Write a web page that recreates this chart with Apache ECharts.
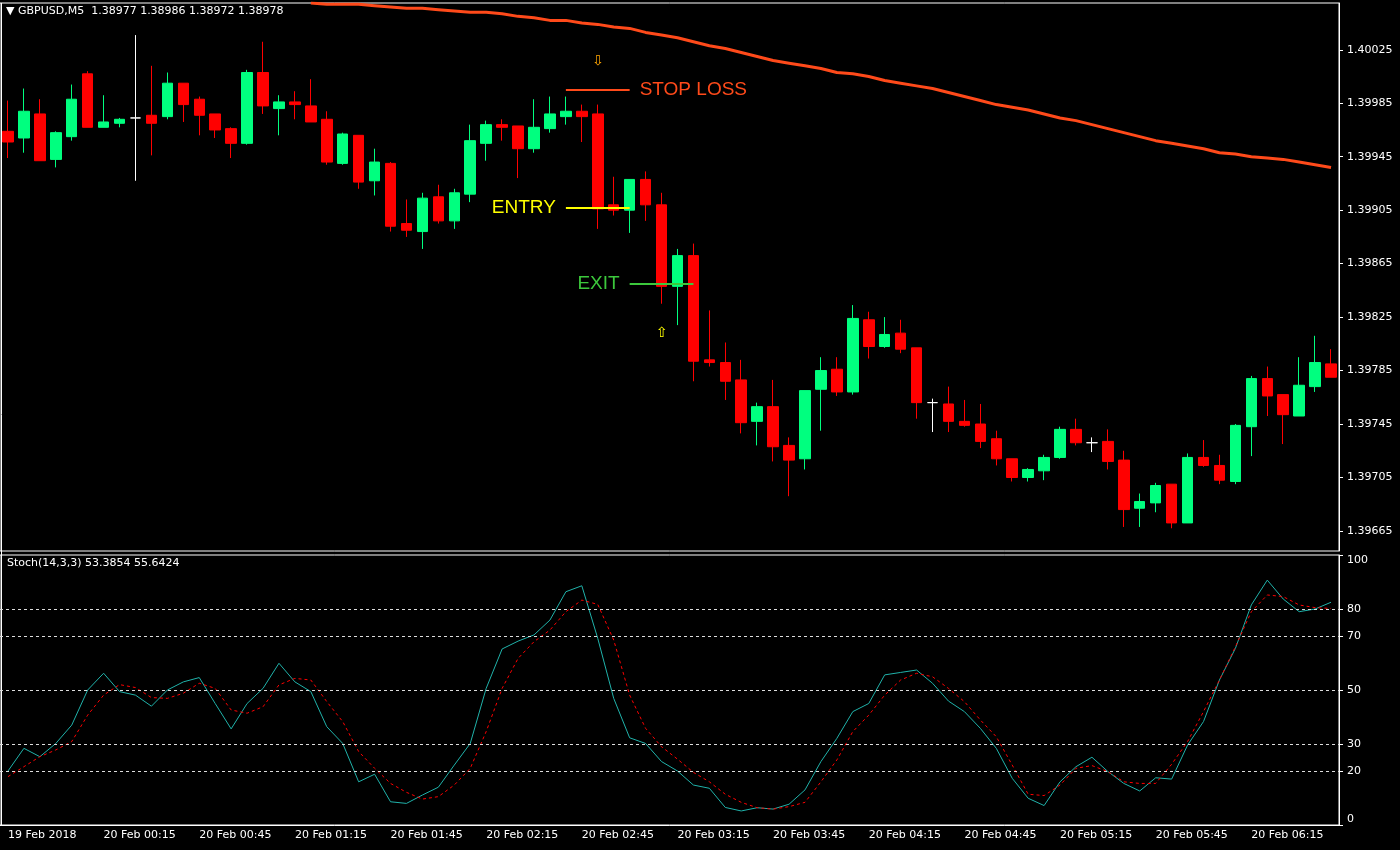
<!DOCTYPE html>
<html>
<head>
<meta charset="utf-8">
<script src="https://cdn.jsdelivr.net/npm/echarts@6/dist/echarts.min.js"></script>
<style>
  html, body { margin: 0; padding: 0; background: #000; }
  #chart { width: 1400px; height: 850px; }
</style>
</head>
<body>
<div id="chart"></div>
<script>
// OHLC, one row per 5 minute bar: [open, close, low, high]
const candles = [
  [1.39964, 1.39956, 1.39944, 1.39987], [1.39959, 1.39979, 1.39948, 1.39996], [1.39977, 1.39942, 1.39942, 1.39988],
  [1.39943, 1.39963, 1.39937, 1.39964], [1.39960, 1.39988, 1.39957, 1.39999], [1.40007, 1.39967, 1.39967, 1.40009],
  [1.39967, 1.39971, 1.39967, 1.39991], [1.39970, 1.39973, 1.39967, 1.39974], [1.39974, 1.39974, 1.39927, 1.40036],
  [1.39976, 1.39970, 1.39946, 1.40013], [1.39975, 1.40000, 1.39973, 1.40008], [1.40000, 1.39984, 1.39971, 1.40000],
  [1.39988, 1.39976, 1.39961, 1.39990], [1.39977, 1.39965, 1.39959, 1.39977], [1.39966, 1.39955, 1.39944, 1.39967],
  [1.39955, 1.40008, 1.39954, 1.40010], [1.40008, 1.39983, 1.39977, 1.40031], [1.39981, 1.39986, 1.39961, 1.39991],
  [1.39986, 1.39984, 1.39973, 1.39994], [1.39983, 1.39971, 1.39971, 1.40003], [1.39973, 1.39941, 1.39939, 1.39979],
  [1.39940, 1.39962, 1.39939, 1.39963], [1.39961, 1.39926, 1.39921, 1.39961], [1.39927, 1.39941, 1.39916, 1.39951],
  [1.39940, 1.39893, 1.39889, 1.39941], [1.39895, 1.39890, 1.39885, 1.39913], [1.39889, 1.39914, 1.39876, 1.39918],
  [1.39915, 1.39897, 1.39895, 1.39924], [1.39897, 1.39918, 1.39891, 1.39921], [1.39917, 1.39957, 1.39911, 1.39969],
  [1.39955, 1.39969, 1.39942, 1.39972], [1.39969, 1.39967, 1.39957, 1.39973], [1.39968, 1.39951, 1.39929, 1.39968],
  [1.39951, 1.39967, 1.39948, 1.39988], [1.39966, 1.39977, 1.39963, 1.39990], [1.39975, 1.39979, 1.39969, 1.39990],
  [1.39979, 1.39975, 1.39956, 1.39984], [1.39977, 1.39906, 1.39891, 1.39984], [1.39909, 1.39905, 1.39901, 1.39930],
  [1.39905, 1.39928, 1.39888, 1.39928], [1.39928, 1.39909, 1.39897, 1.39934], [1.39909, 1.39848, 1.39835, 1.39918],
  [1.39848, 1.39871, 1.39819, 1.39876], [1.39871, 1.39792, 1.39777, 1.39880], [1.39793, 1.39791, 1.39788, 1.39830],
  [1.39791, 1.39777, 1.39763, 1.39806], [1.39778, 1.39746, 1.39738, 1.39793], [1.39747, 1.39758, 1.39729, 1.39761],
  [1.39758, 1.39728, 1.39717, 1.39778], [1.39729, 1.39718, 1.39691, 1.39735], [1.39719, 1.39770, 1.39711, 1.39770],
  [1.39771, 1.39785, 1.39740, 1.39795], [1.39786, 1.39769, 1.39766, 1.39795], [1.39769, 1.39824, 1.39767, 1.39834],
  [1.39823, 1.39803, 1.39794, 1.39829], [1.39803, 1.39812, 1.39802, 1.39825], [1.39813, 1.39801, 1.39798, 1.39823],
  [1.39802, 1.39761, 1.39749, 1.39802], [1.39761, 1.39761, 1.39739, 1.39764], [1.39760, 1.39747, 1.39739, 1.39773],
  [1.39747, 1.39744, 1.39743, 1.39763], [1.39745, 1.39732, 1.39727, 1.39760], [1.39734, 1.39719, 1.39714, 1.39740],
  [1.39719, 1.39705, 1.39702, 1.39719], [1.39705, 1.39711, 1.39702, 1.39712], [1.39710, 1.39720, 1.39703, 1.39722],
  [1.39720, 1.39741, 1.39719, 1.39743], [1.39741, 1.39731, 1.39729, 1.39749], [1.39731, 1.39731, 1.39724, 1.39735],
  [1.39732, 1.39717, 1.39711, 1.39741], [1.39718, 1.39681, 1.39668, 1.39725], [1.39682, 1.39687, 1.39668, 1.39693],
  [1.39686, 1.39699, 1.39679, 1.39701], [1.39700, 1.39671, 1.39667, 1.39700], [1.39671, 1.39720, 1.39671, 1.39723],
  [1.39720, 1.39714, 1.39713, 1.39733], [1.39714, 1.39703, 1.39700, 1.39722], [1.39702, 1.39744, 1.39700, 1.39745],
  [1.39743, 1.39779, 1.39721, 1.39781], [1.39779, 1.39766, 1.39751, 1.39788], [1.39767, 1.39752, 1.39730, 1.39767],
  [1.39751, 1.39774, 1.39751, 1.39795], [1.39773, 1.39791, 1.39769, 1.39811], [1.39790, 1.39780, 1.39780, 1.39801]
];
// bars drawn as white crosses (open == close)
const dojiBars = [8, 58, 68];

// moving average (orange), above the visible range before bar 19
const maLine = [
  null, null, null, null, null, null, null, null, null, null,
  null, null, null, null, null, null, null, null, null,
  1.40060, 1.40059, 1.40059, 1.40059, 1.40058, 1.40057, 1.40056, 1.40056, 1.40055, 1.40054,
  1.40053, 1.40053, 1.40052, 1.40050, 1.40049, 1.40047, 1.40047, 1.40045, 1.40044, 1.40042,
  1.40041, 1.40038, 1.40036, 1.40034, 1.40031, 1.40028, 1.40026, 1.40023, 1.40020, 1.40017,
  1.40015, 1.40013, 1.40011, 1.40008, 1.40007, 1.40005, 1.40002, 1.40000, 1.39998, 1.39996,
  1.39993, 1.39990, 1.39987, 1.39984, 1.39982, 1.39980, 1.39977, 1.39974, 1.39972, 1.39969,
  1.39966, 1.39963, 1.39960, 1.39957, 1.39955, 1.39953, 1.39951, 1.39948, 1.39947, 1.39945,
  1.39944, 1.39943, 1.39941, 1.39939, 1.39937
];

const stochMain = [
  20, 28.4, 25.3, 30.2, 37, 50, 56.2, 49.4, 48.1, 44, 50, 53, 54.6, 45, 35.6, 45, 50.6, 59.9, 53, 49.4,
  36.4, 30.2, 16, 18.8, 8.6, 8, 11.1, 14, 22.2, 30.2, 50.6, 65.2, 68.1, 70.4, 75.9, 86.4, 88.6, 69.1, 46.9, 32.3,
  30.2, 23.5, 20, 14.8, 13.6, 6.5, 5.2, 6.4, 5.9, 7.7, 13, 23.5, 32.1, 42, 45, 55.6, 56.5, 57.4, 52.5, 45.9,
  42, 35.8, 28.4, 17.3, 9.9, 7.2, 16, 21.6, 25.1, 19.8, 15.4, 12.6, 17.5, 17, 29.6, 38.3, 53.7, 65.4, 81.5, 90.7,
  83.7, 79, 80, 82.5
];
const stochSignal = [
  17.9, 21.6, 25.3, 27.8, 30.9, 40.7, 48.1, 52, 50.9, 47.2, 46.9, 48.8, 52.5, 50.6, 42.6, 41.4, 43.8, 51.9, 54.3, 53.7,
  45.7, 38.3, 27.2, 21, 15.4, 12.1, 9.6, 10.5, 14.8, 21, 34.6, 50.6, 61.7, 67.9, 72.2, 79, 83.3, 81.7, 68.5, 48.1,
  35.8, 29, 24.4, 19.5, 16, 11.4, 8.4, 6.4, 5.9, 6.8, 8.4, 16, 24.1, 34.6, 40.7, 48.1, 53.7, 56.2, 54.9, 50.6,
  45.7, 38.9, 32.7, 22.2, 11.4, 10.9, 14.8, 21, 22, 19.8, 16, 15.4, 15.4, 22.5, 30.9, 42, 53.7, 66, 79, 85.2,
  84.6, 81.5, 80.5, 80.2
];

const priceTicks = [1.40025, 1.39985, 1.39945, 1.39905, 1.39865, 1.39825, 1.39785, 1.39745, 1.39705, 1.39665];
const stochLevels = [20, 30, 50, 70, 80];
const stochTicks = [0, 20, 30, 50, 70, 80, 100];

// trade levels: [label, price, from bar, to bar]
const stopLoss = ['STOP LOSS', 1.39995, 35, 39];
const entry = ['ENTRY', 1.39907, 35, 39];
const exit = ['EXIT', 1.39850, 39, 43];
const sellArrow = [37, 1.40016];
const exitArrow = [41, 1.39813];

// bar times, starting 19 Feb 23:45
const times = candles.map((c, i) => {
  const m = 23 * 60 + 45 + i * 5;
  const hh = String(Math.floor(m / 60) % 24).padStart(2, '0');
  const mm = String(m % 60).padStart(2, '0');
  return i === 0 ? '19 Feb 2018' : '20 Feb ' + hh + ':' + mm;
});

const FONT = "'DejaVu Sans', Tahoma, sans-serif";
const UP = '#00FF7F', DOWN = '#FF0000';

const candleData = candles.map((c, i) => dojiBars.includes(i)
  ? { value: c, itemStyle: { color: '#fff', color0: '#fff', borderColor: '#fff', borderColor0: '#fff' } }
  : c);

function tradeLine(def, color, pos) {
  return [
    { coord: [def[2], def[1]], lineStyle: { color, width: 2, type: 'solid' },
      label: { show: true, formatter: def[0], position: pos, color, fontSize: 19, fontFamily: 'Liberation Sans', distance: 10 } },
    { coord: [def[3], def[1]] }
  ];
}

const chart = echarts.init(document.getElementById('chart'));
chart.setOption({
  backgroundColor: '#000',
  animation: false,
  textStyle: { fontFamily: FONT },
  graphic: [
    { type: 'text', left: 6, top: 6, style: { text: '▼ GBPUSD,M5  1.38977 1.38986 1.38972 1.38978', fill: '#fff', font: '11px ' + FONT } },
    { type: 'text', left: 7, top: 558, style: { text: 'Stoch(14,3,3) 53.3854 55.6424', fill: '#fff', font: '11px ' + FONT } },
    { type: 'line', shape: { x1: 1.5, y1: 3, x2: 1.5, y2: 826 }, style: { stroke: '#fff', lineWidth: 1 } }
  ],
  grid: [
    { left: -5, width: 1344, top: 3, height: 548, show: true, borderColor: '#fff', borderWidth: 1 },
    { left: -5, width: 1344, top: 555, height: 270, show: true, borderColor: '#fff', borderWidth: 1 }
  ],
  xAxis: [
    { type: 'category', gridIndex: 0, data: times, show: false },
    {
      type: 'category', gridIndex: 1, data: times,
      axisLine: { lineStyle: { color: '#fff' } },
      axisTick: { alignWithLabel: true, interval: (i) => i % 6 === 0, length: 4, lineStyle: { color: '#fff' } },
      axisLabel: { interval: (i) => i % 6 === 0, color: '#fff', fontSize: 11, align: 'left', margin: 5, fontFamily: FONT }
    }
  ],
  yAxis: [
    {
      type: 'value', gridIndex: 0, position: 'right', min: 1.39650, max: 1.40060, scale: true,
      splitLine: { show: false },
      axisLine: { show: true, lineStyle: { color: '#fff' } },
      axisTick: { show: true, customValues: priceTicks, length: 4, lineStyle: { color: '#fff' } },
      axisLabel: { customValues: priceTicks, color: '#fff', fontSize: 11, margin: 8, formatter: (v) => v.toFixed(5) }
    },
    {
      type: 'value', gridIndex: 1, position: 'right', min: 0, max: 100,
      splitLine: { show: false },
      axisLine: { show: true, lineStyle: { color: '#fff' } },
      axisTick: { show: true, customValues: stochTicks, length: 4, lineStyle: { color: '#fff' } },
      axisLabel: { customValues: stochTicks, color: '#fff', fontSize: 11, margin: 8,
        verticalAlignMaxLabel: 'top', verticalAlignMinLabel: 'bottom' }
    }
  ],
  series: [
    {
      type: 'candlestick', xAxisIndex: 0, yAxisIndex: 0, data: candleData, barWidth: 11,
      itemStyle: { color: UP, color0: DOWN, borderColor: UP, borderColor0: DOWN, borderWidth: 1 },
      markLine: {
        silent: true, symbol: 'none',
        data: [tradeLine(stopLoss, '#FF4A1A', 'end'), tradeLine(entry, '#FFFF00', 'start'), tradeLine(exit, '#3CC83C', 'start')]
      },
      markPoint: {
        silent: true, symbol: 'circle', symbolSize: 0,
        data: [
          { coord: sellArrow, label: { show: true, formatter: '⇩', color: '#FFA500', fontSize: 14 } },
          { coord: exitArrow, label: { show: true, formatter: '⇧', color: '#FFFF00', fontSize: 14 } }
        ]
      }
    },
    {
      type: 'line', xAxisIndex: 0, yAxisIndex: 0, data: maLine, showSymbol: false, clip: true,
      lineStyle: { color: '#FF4A1A', width: 3 }
    },
    {
      type: 'line', xAxisIndex: 1, yAxisIndex: 1, data: stochMain, showSymbol: false,
      lineStyle: { color: '#20B2AA', width: 1 },
      markLine: {
        silent: true, symbol: 'none', label: { show: false },
        lineStyle: { color: '#ddd', type: [3, 3], width: 1 },
        data: stochLevels.map(v => ({ yAxis: v }))
      }
    },
    {
      type: 'line', xAxisIndex: 1, yAxisIndex: 1, data: stochSignal, showSymbol: false,
      lineStyle: { color: '#FF0000', width: 1, type: [3, 3] }
    }
  ]
});
</script>
</body>
</html>
